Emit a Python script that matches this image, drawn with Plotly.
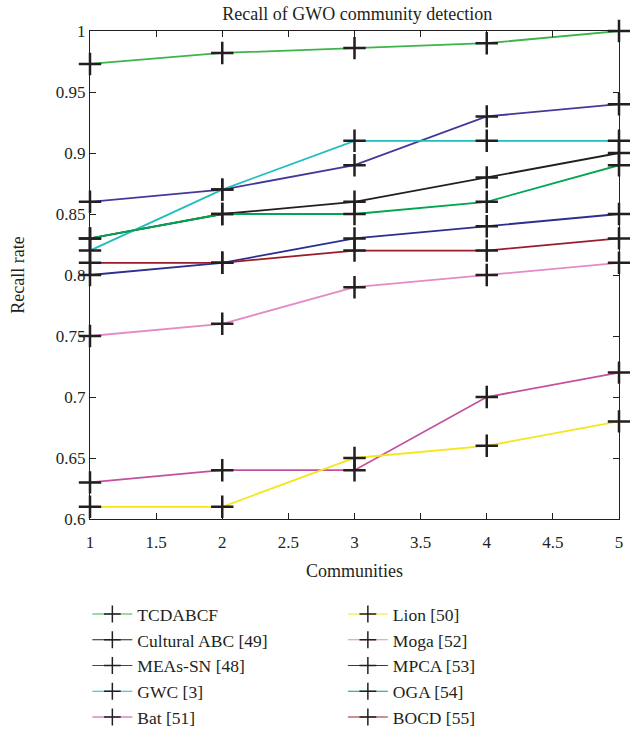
import plotly.graph_objects as go

communities = [1, 2, 3, 4, 5]
x_ticks = [1, 1.5, 2, 2.5, 3, 3.5, 4, 4.5, 5]
x_tick_labels = ["1", "1.5", "2", "2.5", "3", "3.5", "4", "4.5", "5"]
y_ticks = [0.6, 0.65, 0.7, 0.75, 0.8, 0.85, 0.9, 0.95, 1.0]
y_tick_labels = ["0.6", "0.65", "0.7", "0.75", "0.8", "0.85", "0.9", "0.95", "1"]

names = ["TCDABCF", "Cultural ABC [49]", "MEAs-SN [48]", "GWC [3]", "Bat [51]",
         "Lion [50]", "Moga [52]", "MPCA [53]", "OGA [54]", "BOCD [55]"]

tcdabcf = [0.973, 0.982, 0.986, 0.990, 1.0]
cultural_abc = [0.83, 0.85, 0.86, 0.88, 0.90]
meas_sn = [0.86, 0.87, 0.89, 0.93, 0.94]
gwc = [0.82, 0.87, 0.91, 0.91, 0.91]
bat = [0.63, 0.64, 0.64, 0.70, 0.72]
lion = [0.61, 0.61, 0.65, 0.66, 0.68]
moga = [0.75, 0.76, 0.79, 0.80, 0.81]
mpca = [0.80, 0.81, 0.83, 0.84, 0.85]
oga = [0.83, 0.85, 0.85, 0.86, 0.89]
bocd = [0.81, 0.81, 0.82, 0.82, 0.83]

series = [tcdabcf, cultural_abc, meas_sn, gwc, bat, lion, moga, mpca, oga, bocd]
colors = ["#3bb54a", "#231f20", "#45389a", "#22bdbd", "#c2509f",
          "#f5e61a", "#e48ac6", "#2b2f8e", "#00a651", "#9b1d2c"]

FONT = "Liberation Serif"
INK = "#231f20"

fig = go.Figure()
for i, (nm, ys, col) in enumerate(zip(names, series, colors)):
    fig.add_trace(go.Scatter(
        x=communities, y=ys, name=nm, mode="lines+markers",
        line=dict(color=col, width=1.8),
        marker=dict(symbol="cross-thin", size=16, color=INK,
                    line=dict(color=INK, width=2.5)),
        showlegend=False, legendgroup=nm,
        cliponaxis=False,
    ))
# legend entries (thin line + small cross, as in the reference legend)
for i, (nm, col) in enumerate(zip(names, colors)):
    fig.add_trace(go.Scatter(
        x=[None], y=[None], name=nm, mode="lines+markers",
        line=dict(color=col, width=1.2),
        marker=dict(symbol="cross-thin", size=12, color=INK,
                    line=dict(color=INK, width=1.5)),
        legend="legend" if i < 5 else "legend2", legendgroup=nm,
    ))

axis_common = dict(
    showline=True, linecolor=INK, linewidth=1, mirror="allticks",
    ticks="inside", ticklen=6, tickcolor=INK, tickwidth=1,
    showgrid=False, zeroline=False,
    tickfont=dict(family=FONT, size=17, color=INK),
)

fig.update_xaxes(range=[1, 5], tickmode="array", tickvals=x_ticks, ticktext=x_tick_labels,
                 ticklabelstandoff=8,
                 title=dict(text="Communities", font=dict(family=FONT, size=18, color=INK), standoff=12),
                 **axis_common)
fig.update_yaxes(range=[0.6, 1.0], tickmode="array", tickvals=y_ticks, ticktext=y_tick_labels,
                 title=dict(text="Recall rate", font=dict(family=FONT, size=18, color=INK), standoff=26),
                 **axis_common)

legend_common = dict(
    font=dict(family=FONT, size=17.5, color=INK),
    bgcolor="rgba(0,0,0,0)", borderwidth=0,
    yanchor="top", xanchor="left", orientation="v",
    itemsizing="trace", tracegroupgap=0, itemwidth=40,
    groupclick="togglegroup",
)

fig.update_layout(
    width=630, height=742,
    margin=dict(l=90, r=7, t=31, b=223),
    plot_bgcolor="white", paper_bgcolor="white",
    title=dict(text="Recall of GWO community detection", x=0.567, xanchor="center",
               y=0.982, yanchor="middle",
               font=dict(family=FONT, size=18, color=INK)),
    legend=dict(x=-0.005, y=-0.158, **legend_common),
    legend2=dict(x=0.478, y=-0.158, **legend_common),
)

fig.write_html("out.html")
